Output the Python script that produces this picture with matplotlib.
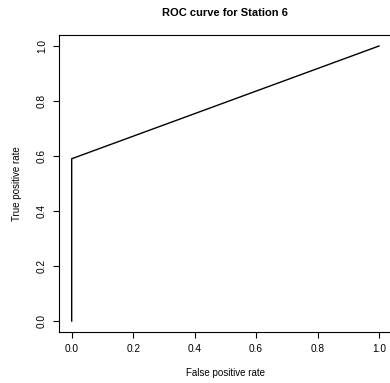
import matplotlib
matplotlib.use("Agg")
import matplotlib.pyplot as plt

fpr = [0.0, 0.0, 1.0]
tpr = [0.0, 0.59, 1.0]
ticks = [0.0, 0.2, 0.4, 0.6, 0.8, 1.0]
tick_labels = ["0.0", "0.2", "0.4", "0.6", "0.8", "1.0"]

plt.rcParams['font.family'] = ['Liberation Sans', 'DejaVu Sans']

W, H = 390, 383
fig = plt.figure(figsize=(W/100, H/100), dpi=100)
left, right = 59.4, 391.3
top, bottom = 35, 332
ax = fig.add_axes([left/W, (H-bottom)/H, (right-left)/W, (bottom-top)/H])
ax.plot(fpr, tpr, color='black', lw=1.0)
ax.set_xlim(-0.04, 1.04)
ax.set_ylim(-0.04, 1.04)
ax.set_xticks(ticks)
ax.set_xticklabels(tick_labels, fontsize=7.3)
ax.set_yticks(ticks)
ax.set_yticklabels(tick_labels, fontsize=7.3, rotation=90, va='center')
ax.tick_params(length=4, width=0.8, pad=5)
for s in ax.spines.values():
    s.set_linewidth(0.8)
ax.set_xlabel("False positive rate", fontsize=7, labelpad=10)
ax.set_ylabel("True positive rate", fontsize=7, labelpad=11)
fig.text(225/W, 1-13/H, "ROC curve for Station 6", fontsize=8,
         fontweight='bold', ha='center', va='center')
fig.savefig("out.png", dpi=100)
